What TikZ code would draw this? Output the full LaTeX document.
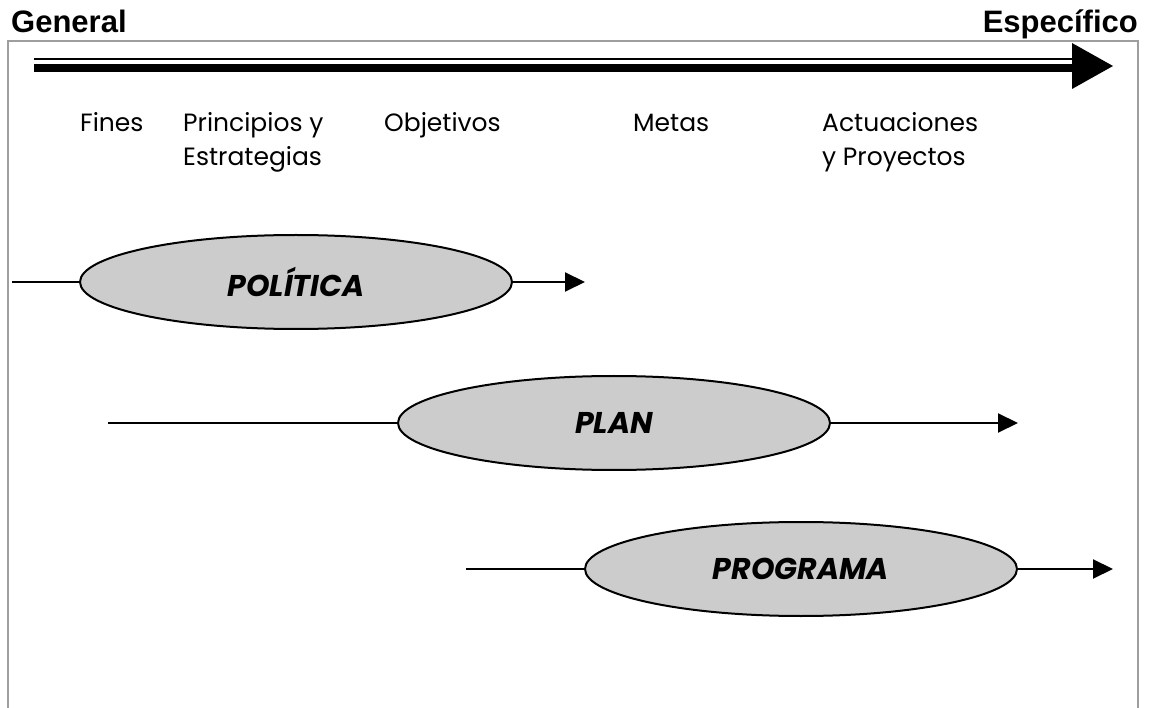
\documentclass[tikz,border=0pt]{standalone}
\usepackage{fontspec}
\setmainfont{Poppins}
\newfontfamily\arialfont{Liberation Sans}
\usetikzlibrary{shapes.geometric,arrows.meta}
\newlength{\du}
\setlength{\du}{1pt}
\definecolor{elipsefill}{rgb}{0.800000, 0.800000, 0.800000}
\definecolor{marcocolor}{rgb}{0.620000, 0.620000, 0.620000}
\tikzset{
  elipse/.style={ellipse, draw=black, fill=elipsefill, line width=2\du,
    minimum width=432\du, minimum height=94\du, inner sep=0pt,
    font=\fontsize{30}{36}\selectfont\bfseries\itshape},
  nivel/.style={anchor=base west, align=left, inner sep=0pt,
    font=\fontsize{25}{34}\selectfont},
  extremo/.style={inner sep=0pt, font=\arialfont\fontsize{31}{36}\selectfont\bfseries},
  conector/.style={line width=2\du},
  flecha/.style={line width=2\du, -{Triangle[length=20pt,width=19pt]}},
}
\begin{document}
\begin{tikzpicture}
\pgftransformxscale{1.000000}
\pgftransformyscale{-1.000000}
\useasboundingbox (0\du,0\du) rectangle (1149\du,708\du);
% marco
\draw[marcocolor, line width=2\du] (8\du,708\du)--(8\du,41\du)--(1138\du,41\du)--(1138\du,708\du);
% extremos
\node[extremo, anchor=base west] (general) at (11\du,33\du){General};
\node[extremo, anchor=base east] (especifico) at (1138\du,33\du){Específico};
% eje general-especifico
\coordinate (ejeini) at (34\du,66\du);
\coordinate (ejefin) at (1072\du,66\du);
\coordinate (ejepunta) at (1113\du,66\du);
\fill[black] ([yshift=-6\du]ejeini) rectangle ([yshift=-8\du]ejefin);
\fill[black] ([yshift=-2\du]ejeini) rectangle ([yshift=6\du]ejefin);
\fill[black] ([yshift=-23\du]ejefin)--(ejepunta)--([yshift=23\du]ejefin)--cycle;
% niveles
\node[nivel] (fines) at (80\du,132\du){Fines};
\node[nivel] (principios) at (183\du,166\du){Principios y\\Estrategias};
\node[nivel] (objetivos) at (384\du,132\du){Objetivos};
\node[nivel] (metas) at (633\du,132\du){Metas};
\node[nivel] (actuaciones) at (822\du,166\du){Actuaciones\\y Proyectos};
% politica
\node[elipse] (politica) at (296\du,282\du){POLÍTICA};
\coordinate (politicaini) at (12\du,282\du);
\coordinate (politicafin) at (585\du,282\du);
\draw[conector] (politicaini)--(politica.west);
\draw[flecha] (politica.east)--(politicafin);
% plan
\node[elipse] (plan) at (614\du,423\du){PLAN};
\coordinate (planini) at (108\du,423\du);
\coordinate (planfin) at (1018\du,423\du);
\draw[conector] (planini)--(plan.west);
\draw[flecha] (plan.east)--(planfin);
% programa
\node[elipse] (programa) at (801\du,569\du){PROGRAMA};
\coordinate (programaini) at (466\du,569\du);
\coordinate (programafin) at (1113\du,569\du);
\draw[conector] (programaini)--(programa.west);
\draw[flecha] (programa.east)--(programafin);
\end{tikzpicture}
\end{document}
